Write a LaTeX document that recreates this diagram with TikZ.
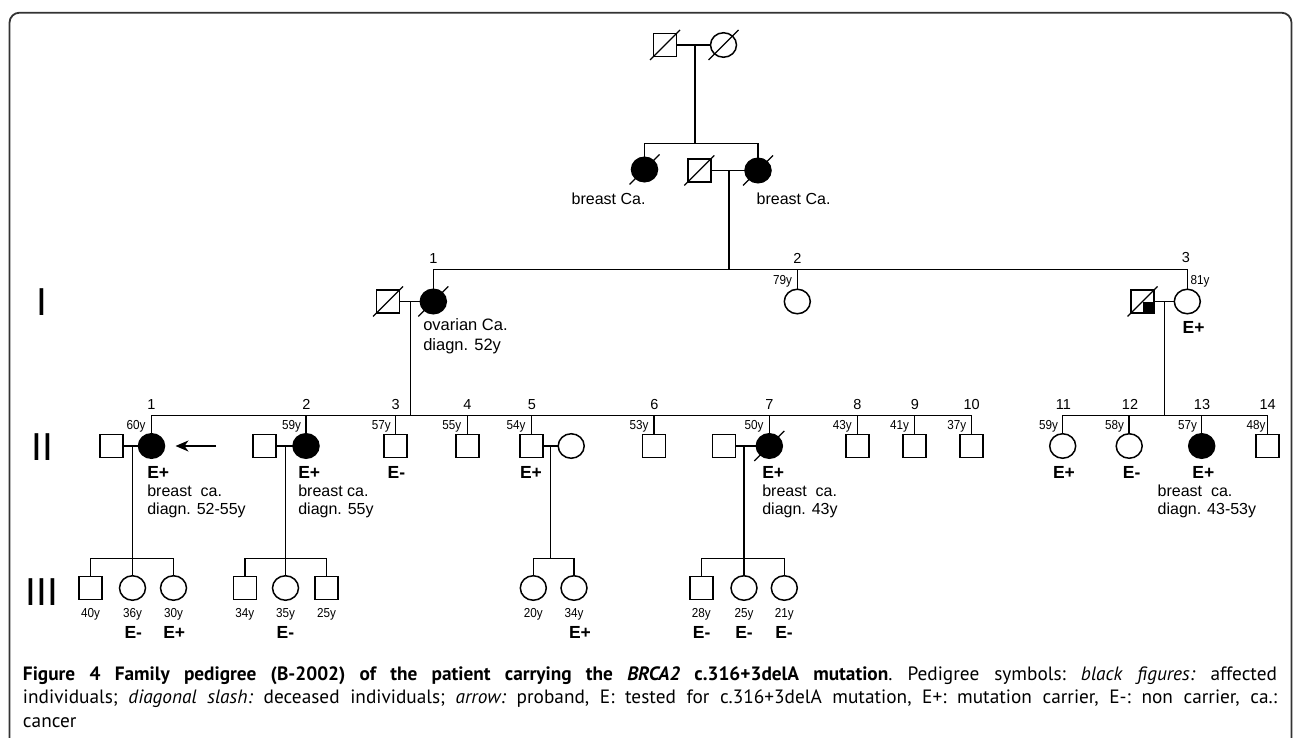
\documentclass[tikz,border=0pt]{standalone}
\usepackage{fontspec}
\setmainfont{Liberation Sans}
\newfontfamily\capfont{PT Sans}
\newfontfamily\agefont{Liberation Sans}[FakeStretch=0.9]
\usetikzlibrary{shapes.geometric,arrows.meta}
\hbadness=10000
\hfuzz=20pt
\tikzset{
  every node/.style={inner sep=0pt, outer sep=0pt},
  male/.style={draw, line width=1.5pt, rectangle, minimum width=23pt, minimum height=23pt},
  female/.style={draw, line width=1.5pt, ellipse, minimum width=26pt, minimum height=24.5pt},
  aff/.style={fill=black},
  link/.style={line width=1.5pt},
  slashline/.style={line width=1.3pt},
  num/.style={font=\fontsize{14.5}{16}\selectfont, anchor=base},
  agel/.style={font=\agefont\fontsize{13}{15}\selectfont, anchor=base east},
  ager/.style={font=\agefont\fontsize{13}{15}\selectfont, anchor=base west},
  agec/.style={font=\agefont\fontsize{13}{15}\selectfont, anchor=base},
  testl/.style={font=\bfseries\fontsize{17.5}{20}\selectfont, anchor=base west},
  testc/.style={font=\bfseries\fontsize{17.5}{20}\selectfont, anchor=base},
  note/.style={font=\fontsize{16}{18.3}\selectfont, anchor=base west},
  gen/.style={font=\fontsize{39}{42}\selectfont},
  frame/.style={line width=1.8pt, draw=black!80, rounded corners=10pt}
}
\newcommand\deceased[1]{\draw[slashline] ([shift={(-15,15)}]#1.center) -- ([shift={(15,-15)}]#1.center);}
\newcommand\twoline[2]{\begin{tabular}[t]{@{}l@{}}#1\\#2\end{tabular}}
\begin{document}
\begin{tikzpicture}[x=1pt,y=-1pt]
\useasboundingbox (0,0) rectangle (1293,738);
\draw[frame] (9.5,745) -- (9.5,12.7) -- (1291.5,12.7) -- (1291.5,745);

% generation labels
\node[gen] (gI) at (41.7,302) {I};
\node[gen] (gII) at (42.3,447) {II};
\node[gen] (gIII) at (42,592) {III};

% ---------- top couple ----------
\node[male] (gpm) at (665,45) {};
\node[female] (gpf) at (723.5,45) {};
\deceased{gpm}\deceased{gpf}
\draw[link] (gpm.east) -- (gpf.west);
\coordinate (m0) at (695,45);
\coordinate (s0) at (695,143.3);
\draw[link] (m0) -- (s0);

\node[female,aff] (aunt) at (644.5,169.5) {};
\node[male] (gmh) at (699.3,170.5) {};
\node[female,aff] (gm) at (758,170.5) {};
\deceased{aunt}\deceased{gmh}\deceased{gm}
\draw[link] (aunt.north) |- (s0);
\draw[link] (gm.north) |- (s0);
\draw[link] (gmh.east) -- (gm.west);
\node[note] (aunttxt) at (571.7,205) {breast Ca.};
\node[note] (gmtxt) at (756.7,205) {breast Ca.};
\coordinate (m1) at (729,170.5);
\coordinate (s1) at (729,269.3);
\draw[link] (m1) -- (s1);

% ---------- generation I ----------
\node[male] (I1h) at (388,301.5) {};
\node[female,aff] (I1) at (433.3,301.5) {};
\node[female] (I2) at (797.3,301.5) {};
\node[male] (I3h) at (1142.5,301.5) {};
\node[female] (I3) at (1187.3,301.5) {};
\fill (I3h.center) rectangle (I3h.south east);
\deceased{I1h}\deceased{I1}\deceased{I3h}
\draw[link] (I1.north) |- (s1);
\draw[link] (I3.north) |- (s1);
\draw[link] (I2.north) -- (I2.north |- s1);
\draw[link] (I1h.east) -- (I1.west);
\draw[link] (I3h.east) -- (I3.west);
\node[num] (nI1) at (433.3,263) {1};
\node[num] (nI2) at (797.3,263) {2};
\node[num] (nI3) at (1186,262) {3};
\node[agel] (aI2) at (792,284.5) {79y};
\node[ager] (aI3) at (1190.7,284.5) {81y};
\node[testl] (tI3) at (1182.7,333) {E+};
\node[font=\fontsize{16.5}{20}\selectfont, anchor=base west] (I1txt) at (423.3,330.7) {\twoline{ovarian Ca.}{diagn. 52y}};

\coordinate (m2) at (410.7,301.5);
\coordinate (s2) at (410.7,415.5);
\draw[link] (m2) -- (s2);
\coordinate (m3) at (1164.3,301.5);
\coordinate (s3) at (1164.3,415.5);
\draw[link] (m3) -- (s3);

% ---------- generation II ----------
\node[male] (II1h) at (111.7,446) {};
\node[female,aff] (II1) at (151.5,446) {};
\node[male] (II2h) at (264.3,446) {};
\node[female,aff] (II2) at (306,446) {};
\node[male] (II3) at (395.7,446) {};
\node[male] (II4) at (467.3,446) {};
\node[male] (II5) at (531.7,446) {};
\node[female] (II5w) at (571.2,446) {};
\node[male] (II6) at (654,446) {};
\node[male] (II7h) at (724,446) {};
\node[female,aff] (II7) at (769.3,446) {};
\node[male] (II8) at (857.3,446) {};
\node[male] (II9) at (914.5,446) {};
\node[male] (II10) at (971.5,446) {};
\node[female] (II11) at (1062.7,446) {};
\node[female] (II12) at (1129.2,446) {};
\node[female,aff] (II13) at (1201.7,446) {};
\node[male] (II14) at (1267.5,446) {};
\deceased{II7}

\draw[link] (II1.north) |- (s2);
\draw[link] (II10.north) |- (s2);
\foreach \n in {II2,II3,II4,II5,II6,II7,II8,II9}
  \draw[link] (\n.north) -- (\n.north |- s2);
\draw[link] (II11.north) |- (s3);
\draw[link] (II14.north) |- (s3);
\foreach \n in {II12,II13}
  \draw[link] (\n.north) -- (\n.north |- s3);

\draw[link] (II1h.east) -- (II1.west);
\draw[link] (II2h.east) -- (II2.west);
\draw[link] (II5.east) -- (II5w.west);
\draw[link] (II7h.east) -- (II7.west);

\coordinate (arrtail) at (216,446);
\draw[line width=1.3pt, -{Stealth[length=13pt,width=11pt,inset=4pt]}, shorten >=11pt] (arrtail) -- (II1.east);

% numbers
\foreach \n/\x/\t in {nII1/151.5/1, nII2/306.5/2, nII3/395.7/3, nII4/467.3/4, nII5/532/5, nII6/654.3/6, nII7/769.3/7, nII8/857.3/8, nII9/915/9, nII10/971.7/10, nII11/1063.3/11, nII12/1130/12, nII13/1202/13, nII14/1267.7/14}
  \node[num] (\n) at (\x,409.5) {\t};
% ages
\foreach \n/\x/\t in {aII1/145.5/60y, aII2/301/59y, aII3/390.7/57y, aII4/461.3/55y, aII5/525.5/54y, aII6/648.5/53y, aII7/763.5/50y, aII8/851.7/43y, aII9/909/41y, aII10/966.3/37y, aII11/1058/59y, aII12/1124/58y, aII13/1197/57y, aII14/1265.5/48y}
  \node[agel] (\n) at (\x,429.5) {\t};
% test results
\node[testl] (tII1) at (147.3,478.5) {E+};
\node[testl] (tII2) at (298.3,478.5) {E+};
\node[testl] (tII3) at (387.7,478.5) {E-};
\node[testl] (tII5) at (520,478.5) {E+};
\node[testl] (tII7) at (762.3,478.5) {E+};
\node[testc] (tII11) at (1064,478.5) {E+};
\node[testc] (tII12) at (1131.7,478.5) {E-};
\node[testc] (tII13) at (1203.3,478.5) {E+};
% notes
\node[note] (dII1) at (147.3,496) {\twoline{breast\ \ ca.}{diagn. 52-55y}};
\node[note] (dII2) at (298.3,496) {\twoline{breast ca.}{diagn. 55y}};
\node[note] (dII7) at (762.3,496) {\twoline{breast\ \ ca.}{diagn. 43y}};
\node[note] (dII13) at (1157.7,496) {\twoline{breast\ \ ca.}{diagn. 43-53y}};

\coordinate (m4) at (132.5,446);
\coordinate (s4) at (132.5,558.3);
\coordinate (m5) at (285.5,446);
\coordinate (s5) at (285.5,558.3);
\coordinate (m6) at (550.7,446);
\coordinate (s6) at (550.7,558.3);
\coordinate (m7) at (744,446);
\coordinate (s7) at (744,558.3);
\foreach \k in {4,5,6,7} \draw[link] (m\k) -- (s\k);

% ---------- generation III ----------
\node[male] (A1) at (90.6,588) {};
\node[female] (A2) at (132.5,588) {};
\node[female] (A3) at (173.5,588) {};
\node[male] (B1) at (244.8,588) {};
\node[female] (B2) at (285.5,588) {};
\node[male] (B3) at (326.5,588) {};
\node[female] (C1) at (533.3,588) {};
\node[female] (C2) at (574,588) {};
\node[male] (D1) at (701.3,588) {};
\node[female] (D2) at (744,588) {};
\node[female] (D3) at (784.3,588) {};

\draw[link] (A1.north) |- (s4); \draw[link] (A3.north) |- (s4);
\draw[link] (A2.north) -- (s4);
\draw[link] (B1.north) |- (s5); \draw[link] (B3.north) |- (s5);
\draw[link] (B2.north) -- (s5);
\draw[link] (C1.north) |- (s6); \draw[link] (C2.north) |- (s6);
\draw[link] (D1.north) |- (s7); \draw[link] (D3.north) |- (s7);
\draw[link] (D2.north) -- (s7);

\foreach \n/\t in {A1/40y, A2/36y, A3/30y, B1/34y, B2/35y, B3/25y, C1/20y, C2/34y, D1/28y, D2/25y, D3/21y}
  \node[agec] (a\n) at (\n.center |- 0,617) {\t};
\node[testc] (tA2) at (133.3,638) {E-};
\node[testc] (tA3) at (174.2,638) {E+};
\node[testc] (tB2) at (285.4,638) {E-};
\node[testc] (tC2) at (580,638) {E+};
\node[testc] (tD1) at (701.7,638) {E-};
\node[testc] (tD2) at (744,638) {E-};
\node[testc] (tD3) at (784,638) {E-};

% ---------- caption ----------
\node[anchor=base west] (cap) at (23,680) {\parbox[t]{1254pt}{\capfont\fontsize{19.3}{23.5}\selectfont\frenchspacing
\textbf{Figure 4 Family pedigree (B-2002) of the patient carrying the \textit{BRCA2} c.316+3delA mutation}. Pedigree symbols: \textit{black figures:} affected\linebreak
individuals; \textit{diagonal slash:} deceased individuals; \textit{arrow:} proband, E: tested for c.316+3delA mutation, E+: mutation carrier, E-: non carrier, ca.:\linebreak
cancer}};
\end{tikzpicture}
\end{document}
